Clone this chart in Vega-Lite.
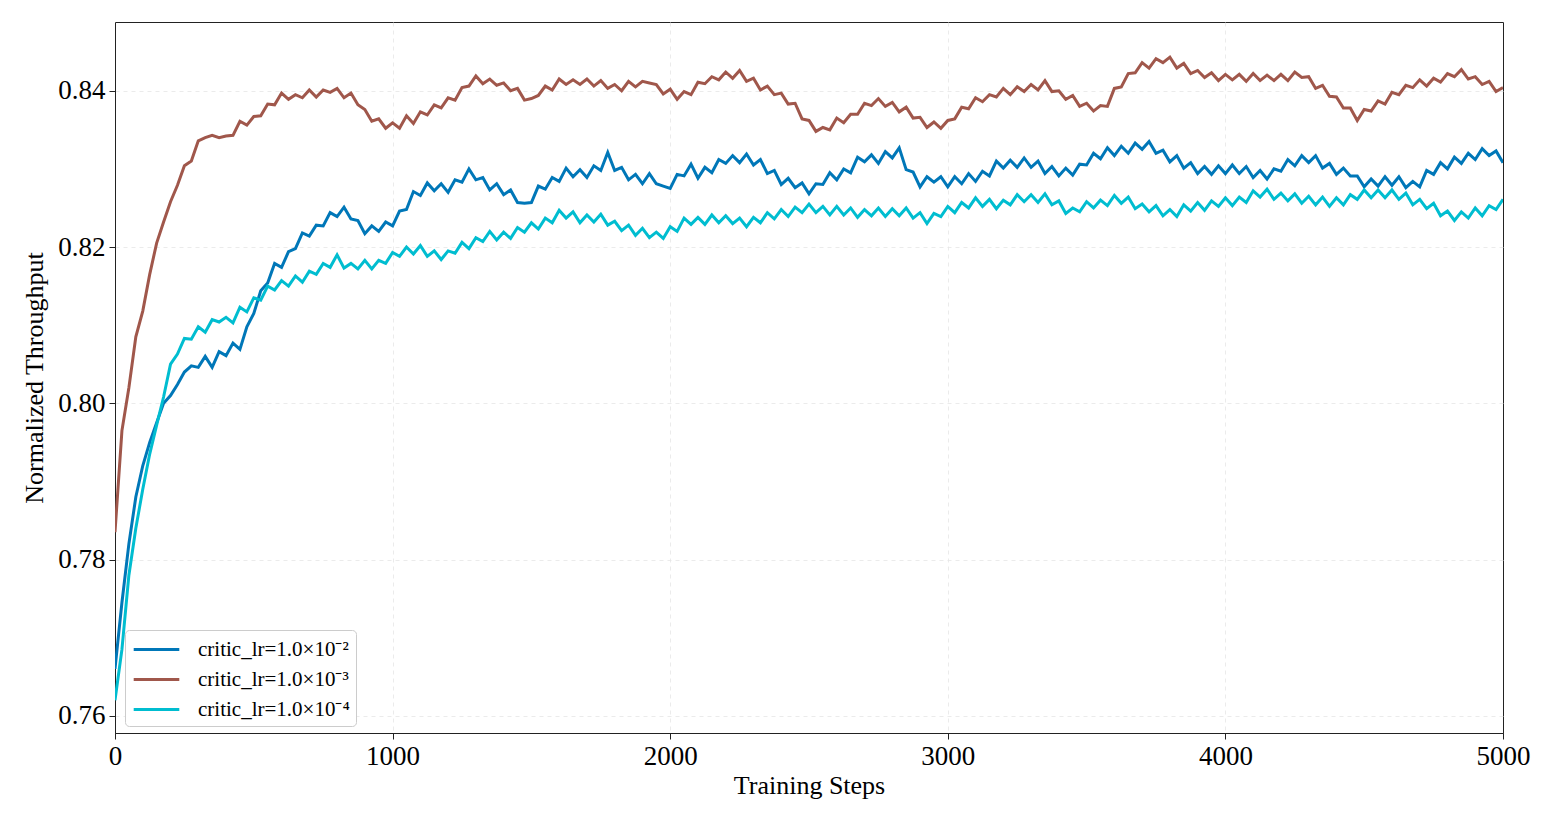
{
  "$schema": "https://vega.github.io/schema/vega-lite/v6.json",
  "width": 1388,
  "height": 711,
  "autosize": "none",
  "padding": {"left": 115, "top": 22, "right": 47, "bottom": 88},
  "background": "white",
  "data": {
    "values": [
      {"x": 0, "a": 0.7660, "b": 0.7835, "c": 0.7620},
      {"x": 25, "a": 0.7745, "b": 0.7965, "c": 0.7685},
      {"x": 50, "a": 0.7820, "b": 0.8020, "c": 0.7780},
      {"x": 75, "a": 0.7880, "b": 0.8085, "c": 0.7840},
      {"x": 100, "a": 0.7920, "b": 0.8118, "c": 0.7890},
      {"x": 125, "a": 0.7950, "b": 0.8165, "c": 0.7935},
      {"x": 150, "a": 0.7975, "b": 0.8205, "c": 0.7972},
      {"x": 175, "a": 0.8000, "b": 0.8232, "c": 0.8008},
      {"x": 200, "a": 0.8010, "b": 0.8258, "c": 0.8050},
      {"x": 225, "a": 0.8024, "b": 0.8279, "c": 0.8063},
      {"x": 250, "a": 0.8040, "b": 0.8304, "c": 0.8083},
      {"x": 275, "a": 0.8048, "b": 0.8310, "c": 0.8082},
      {"x": 300, "a": 0.8046, "b": 0.8336, "c": 0.8098},
      {"x": 325, "a": 0.8060, "b": 0.8340, "c": 0.8091},
      {"x": 350, "a": 0.8046, "b": 0.8343, "c": 0.8107},
      {"x": 375, "a": 0.8066, "b": 0.8340, "c": 0.8104},
      {"x": 400, "a": 0.8061, "b": 0.8342, "c": 0.8110},
      {"x": 425, "a": 0.8077, "b": 0.8343, "c": 0.8103},
      {"x": 450, "a": 0.8069, "b": 0.8361, "c": 0.8123},
      {"x": 475, "a": 0.8098, "b": 0.8356, "c": 0.8117},
      {"x": 500, "a": 0.8115, "b": 0.8367, "c": 0.8135},
      {"x": 525, "a": 0.8144, "b": 0.8368, "c": 0.8132},
      {"x": 550, "a": 0.8154, "b": 0.8383, "c": 0.8150},
      {"x": 575, "a": 0.8179, "b": 0.8382, "c": 0.8145},
      {"x": 600, "a": 0.8174, "b": 0.8397, "c": 0.8157},
      {"x": 625, "a": 0.8194, "b": 0.8389, "c": 0.8150},
      {"x": 650, "a": 0.8198, "b": 0.8395, "c": 0.8163},
      {"x": 675, "a": 0.8218, "b": 0.8391, "c": 0.8155},
      {"x": 700, "a": 0.8214, "b": 0.8401, "c": 0.8169},
      {"x": 725, "a": 0.8228, "b": 0.8392, "c": 0.8165},
      {"x": 750, "a": 0.8227, "b": 0.8401, "c": 0.8179},
      {"x": 775, "a": 0.8244, "b": 0.8398, "c": 0.8174},
      {"x": 800, "a": 0.8239, "b": 0.8403, "c": 0.8190},
      {"x": 825, "a": 0.8251, "b": 0.8391, "c": 0.8173},
      {"x": 850, "a": 0.8236, "b": 0.8397, "c": 0.8179},
      {"x": 875, "a": 0.8234, "b": 0.8382, "c": 0.8172},
      {"x": 900, "a": 0.8217, "b": 0.8376, "c": 0.8183},
      {"x": 925, "a": 0.8227, "b": 0.8361, "c": 0.8172},
      {"x": 950, "a": 0.8220, "b": 0.8364, "c": 0.8183},
      {"x": 975, "a": 0.8232, "b": 0.8352, "c": 0.8179},
      {"x": 1000, "a": 0.8227, "b": 0.8359, "c": 0.8193},
      {"x": 1025, "a": 0.8246, "b": 0.8352, "c": 0.8188},
      {"x": 1050, "a": 0.8248, "b": 0.8368, "c": 0.8200},
      {"x": 1075, "a": 0.8271, "b": 0.8358, "c": 0.8191},
      {"x": 1100, "a": 0.8266, "b": 0.8373, "c": 0.8202},
      {"x": 1125, "a": 0.8282, "b": 0.8369, "c": 0.8188},
      {"x": 1150, "a": 0.8272, "b": 0.8382, "c": 0.8195},
      {"x": 1175, "a": 0.8281, "b": 0.8378, "c": 0.8184},
      {"x": 1200, "a": 0.8270, "b": 0.8391, "c": 0.8195},
      {"x": 1225, "a": 0.8286, "b": 0.8388, "c": 0.8192},
      {"x": 1250, "a": 0.8283, "b": 0.8404, "c": 0.8206},
      {"x": 1275, "a": 0.8300, "b": 0.8406, "c": 0.8198},
      {"x": 1300, "a": 0.8286, "b": 0.8419, "c": 0.8212},
      {"x": 1325, "a": 0.8289, "b": 0.8409, "c": 0.8207},
      {"x": 1350, "a": 0.8273, "b": 0.8415, "c": 0.8220},
      {"x": 1375, "a": 0.8281, "b": 0.8407, "c": 0.8209},
      {"x": 1400, "a": 0.8267, "b": 0.8410, "c": 0.8219},
      {"x": 1425, "a": 0.8273, "b": 0.8400, "c": 0.8211},
      {"x": 1450, "a": 0.8257, "b": 0.8403, "c": 0.8225},
      {"x": 1475, "a": 0.8256, "b": 0.8388, "c": 0.8219},
      {"x": 1500, "a": 0.8257, "b": 0.8390, "c": 0.8231},
      {"x": 1525, "a": 0.8278, "b": 0.8394, "c": 0.8223},
      {"x": 1550, "a": 0.8274, "b": 0.8406, "c": 0.8237},
      {"x": 1575, "a": 0.8289, "b": 0.8401, "c": 0.8231},
      {"x": 1600, "a": 0.8284, "b": 0.8415, "c": 0.8247},
      {"x": 1625, "a": 0.8301, "b": 0.8408, "c": 0.8237},
      {"x": 1650, "a": 0.8290, "b": 0.8414, "c": 0.8245},
      {"x": 1675, "a": 0.8299, "b": 0.8408, "c": 0.8231},
      {"x": 1700, "a": 0.8289, "b": 0.8415, "c": 0.8241},
      {"x": 1725, "a": 0.8304, "b": 0.8406, "c": 0.8232},
      {"x": 1750, "a": 0.8298, "b": 0.8413, "c": 0.8242},
      {"x": 1775, "a": 0.8321, "b": 0.8403, "c": 0.8228},
      {"x": 1800, "a": 0.8298, "b": 0.8408, "c": 0.8233},
      {"x": 1825, "a": 0.8302, "b": 0.8400, "c": 0.8221},
      {"x": 1850, "a": 0.8286, "b": 0.8412, "c": 0.8228},
      {"x": 1875, "a": 0.8293, "b": 0.8405, "c": 0.8215},
      {"x": 1900, "a": 0.8281, "b": 0.8412, "c": 0.8224},
      {"x": 1925, "a": 0.8294, "b": 0.8410, "c": 0.8212},
      {"x": 1950, "a": 0.8281, "b": 0.8408, "c": 0.8219},
      {"x": 1975, "a": 0.8278, "b": 0.8396, "c": 0.8211},
      {"x": 2000, "a": 0.8275, "b": 0.8402, "c": 0.8226},
      {"x": 2025, "a": 0.8293, "b": 0.8389, "c": 0.8220},
      {"x": 2050, "a": 0.8291, "b": 0.8399, "c": 0.8237},
      {"x": 2075, "a": 0.8306, "b": 0.8395, "c": 0.8229},
      {"x": 2100, "a": 0.8288, "b": 0.8411, "c": 0.8238},
      {"x": 2125, "a": 0.8302, "b": 0.8409, "c": 0.8229},
      {"x": 2150, "a": 0.8295, "b": 0.8418, "c": 0.8241},
      {"x": 2175, "a": 0.8312, "b": 0.8414, "c": 0.8231},
      {"x": 2200, "a": 0.8307, "b": 0.8424, "c": 0.8240},
      {"x": 2225, "a": 0.8317, "b": 0.8416, "c": 0.8230},
      {"x": 2250, "a": 0.8308, "b": 0.8426, "c": 0.8237},
      {"x": 2275, "a": 0.8319, "b": 0.8412, "c": 0.8226},
      {"x": 2300, "a": 0.8305, "b": 0.8416, "c": 0.8238},
      {"x": 2325, "a": 0.8312, "b": 0.8401, "c": 0.8231},
      {"x": 2350, "a": 0.8294, "b": 0.8406, "c": 0.8244},
      {"x": 2375, "a": 0.8298, "b": 0.8395, "c": 0.8236},
      {"x": 2400, "a": 0.8280, "b": 0.8397, "c": 0.8248},
      {"x": 2425, "a": 0.8288, "b": 0.8383, "c": 0.8239},
      {"x": 2450, "a": 0.8276, "b": 0.8384, "c": 0.8251},
      {"x": 2475, "a": 0.8282, "b": 0.8364, "c": 0.8244},
      {"x": 2500, "a": 0.8268, "b": 0.8362, "c": 0.8255},
      {"x": 2525, "a": 0.8281, "b": 0.8348, "c": 0.8244},
      {"x": 2550, "a": 0.8280, "b": 0.8353, "c": 0.8252},
      {"x": 2575, "a": 0.8295, "b": 0.8350, "c": 0.8241},
      {"x": 2600, "a": 0.8286, "b": 0.8365, "c": 0.8252},
      {"x": 2625, "a": 0.8300, "b": 0.8359, "c": 0.8241},
      {"x": 2650, "a": 0.8295, "b": 0.8370, "c": 0.8250},
      {"x": 2675, "a": 0.8315, "b": 0.8370, "c": 0.8238},
      {"x": 2700, "a": 0.8309, "b": 0.8384, "c": 0.8248},
      {"x": 2725, "a": 0.8318, "b": 0.8381, "c": 0.8240},
      {"x": 2750, "a": 0.8307, "b": 0.8390, "c": 0.8250},
      {"x": 2775, "a": 0.8322, "b": 0.8380, "c": 0.8239},
      {"x": 2800, "a": 0.8314, "b": 0.8385, "c": 0.8249},
      {"x": 2825, "a": 0.8327, "b": 0.8373, "c": 0.8240},
      {"x": 2850, "a": 0.8299, "b": 0.8379, "c": 0.8250},
      {"x": 2875, "a": 0.8296, "b": 0.8365, "c": 0.8237},
      {"x": 2900, "a": 0.8277, "b": 0.8366, "c": 0.8244},
      {"x": 2925, "a": 0.8290, "b": 0.8353, "c": 0.8230},
      {"x": 2950, "a": 0.8283, "b": 0.8360, "c": 0.8243},
      {"x": 2975, "a": 0.8290, "b": 0.8352, "c": 0.8239},
      {"x": 3000, "a": 0.8277, "b": 0.8362, "c": 0.8252},
      {"x": 3025, "a": 0.8290, "b": 0.8364, "c": 0.8244},
      {"x": 3050, "a": 0.8281, "b": 0.8379, "c": 0.8257},
      {"x": 3075, "a": 0.8294, "b": 0.8377, "c": 0.8250},
      {"x": 3100, "a": 0.8284, "b": 0.8391, "c": 0.8263},
      {"x": 3125, "a": 0.8297, "b": 0.8386, "c": 0.8252},
      {"x": 3150, "a": 0.8291, "b": 0.8395, "c": 0.8261},
      {"x": 3175, "a": 0.8310, "b": 0.8392, "c": 0.8249},
      {"x": 3200, "a": 0.8301, "b": 0.8403, "c": 0.8260},
      {"x": 3225, "a": 0.8311, "b": 0.8395, "c": 0.8254},
      {"x": 3250, "a": 0.8302, "b": 0.8405, "c": 0.8267},
      {"x": 3275, "a": 0.8314, "b": 0.8399, "c": 0.8258},
      {"x": 3300, "a": 0.8302, "b": 0.8408, "c": 0.8267},
      {"x": 3325, "a": 0.8310, "b": 0.8401, "c": 0.8257},
      {"x": 3350, "a": 0.8294, "b": 0.8413, "c": 0.8268},
      {"x": 3375, "a": 0.8303, "b": 0.8399, "c": 0.8254},
      {"x": 3400, "a": 0.8291, "b": 0.8400, "c": 0.8259},
      {"x": 3425, "a": 0.8301, "b": 0.8389, "c": 0.8243},
      {"x": 3450, "a": 0.8292, "b": 0.8394, "c": 0.8250},
      {"x": 3475, "a": 0.8306, "b": 0.8380, "c": 0.8245},
      {"x": 3500, "a": 0.8305, "b": 0.8384, "c": 0.8258},
      {"x": 3525, "a": 0.8320, "b": 0.8374, "c": 0.8250},
      {"x": 3550, "a": 0.8313, "b": 0.8381, "c": 0.8260},
      {"x": 3575, "a": 0.8327, "b": 0.8380, "c": 0.8253},
      {"x": 3600, "a": 0.8317, "b": 0.8403, "c": 0.8266},
      {"x": 3625, "a": 0.8329, "b": 0.8405, "c": 0.8256},
      {"x": 3650, "a": 0.8320, "b": 0.8422, "c": 0.8264},
      {"x": 3675, "a": 0.8333, "b": 0.8423, "c": 0.8249},
      {"x": 3700, "a": 0.8325, "b": 0.8436, "c": 0.8255},
      {"x": 3725, "a": 0.8335, "b": 0.8429, "c": 0.8245},
      {"x": 3750, "a": 0.8320, "b": 0.8441, "c": 0.8253},
      {"x": 3775, "a": 0.8324, "b": 0.8436, "c": 0.8240},
      {"x": 3800, "a": 0.8309, "b": 0.8443, "c": 0.8248},
      {"x": 3825, "a": 0.8317, "b": 0.8429, "c": 0.8239},
      {"x": 3850, "a": 0.8301, "b": 0.8435, "c": 0.8254},
      {"x": 3875, "a": 0.8308, "b": 0.8422, "c": 0.8246},
      {"x": 3900, "a": 0.8294, "b": 0.8426, "c": 0.8257},
      {"x": 3925, "a": 0.8303, "b": 0.8417, "c": 0.8247},
      {"x": 3950, "a": 0.8293, "b": 0.8423, "c": 0.8259},
      {"x": 3975, "a": 0.8304, "b": 0.8413, "c": 0.8252},
      {"x": 4000, "a": 0.8294, "b": 0.8421, "c": 0.8263},
      {"x": 4025, "a": 0.8305, "b": 0.8414, "c": 0.8253},
      {"x": 4050, "a": 0.8294, "b": 0.8421, "c": 0.8264},
      {"x": 4075, "a": 0.8303, "b": 0.8412, "c": 0.8257},
      {"x": 4100, "a": 0.8289, "b": 0.8422, "c": 0.8272},
      {"x": 4125, "a": 0.8298, "b": 0.8413, "c": 0.8264},
      {"x": 4150, "a": 0.8287, "b": 0.8420, "c": 0.8274},
      {"x": 4175, "a": 0.8300, "b": 0.8413, "c": 0.8261},
      {"x": 4200, "a": 0.8297, "b": 0.8421, "c": 0.8269},
      {"x": 4225, "a": 0.8312, "b": 0.8413, "c": 0.8259},
      {"x": 4250, "a": 0.8304, "b": 0.8424, "c": 0.8268},
      {"x": 4275, "a": 0.8317, "b": 0.8417, "c": 0.8256},
      {"x": 4300, "a": 0.8308, "b": 0.8418, "c": 0.8265},
      {"x": 4325, "a": 0.8317, "b": 0.8403, "c": 0.8254},
      {"x": 4350, "a": 0.8301, "b": 0.8407, "c": 0.8264},
      {"x": 4375, "a": 0.8307, "b": 0.8393, "c": 0.8252},
      {"x": 4400, "a": 0.8293, "b": 0.8392, "c": 0.8263},
      {"x": 4425, "a": 0.8301, "b": 0.8378, "c": 0.8254},
      {"x": 4450, "a": 0.8291, "b": 0.8378, "c": 0.8267},
      {"x": 4475, "a": 0.8291, "b": 0.8362, "c": 0.8261},
      {"x": 4500, "a": 0.8277, "b": 0.8376, "c": 0.8273},
      {"x": 4525, "a": 0.8287, "b": 0.8374, "c": 0.8263},
      {"x": 4550, "a": 0.8278, "b": 0.8387, "c": 0.8273},
      {"x": 4575, "a": 0.8290, "b": 0.8383, "c": 0.8263},
      {"x": 4600, "a": 0.8279, "b": 0.8398, "c": 0.8273},
      {"x": 4625, "a": 0.8290, "b": 0.8395, "c": 0.8261},
      {"x": 4650, "a": 0.8276, "b": 0.8407, "c": 0.8269},
      {"x": 4675, "a": 0.8284, "b": 0.8404, "c": 0.8254},
      {"x": 4700, "a": 0.8277, "b": 0.8414, "c": 0.8261},
      {"x": 4725, "a": 0.8298, "b": 0.8406, "c": 0.8249},
      {"x": 4750, "a": 0.8293, "b": 0.8416, "c": 0.8256},
      {"x": 4775, "a": 0.8308, "b": 0.8411, "c": 0.8240},
      {"x": 4800, "a": 0.8300, "b": 0.8422, "c": 0.8246},
      {"x": 4825, "a": 0.8315, "b": 0.8418, "c": 0.8234},
      {"x": 4850, "a": 0.8307, "b": 0.8427, "c": 0.8245},
      {"x": 4875, "a": 0.8320, "b": 0.8415, "c": 0.8237},
      {"x": 4900, "a": 0.8312, "b": 0.8418, "c": 0.8250},
      {"x": 4925, "a": 0.8326, "b": 0.8408, "c": 0.8240},
      {"x": 4950, "a": 0.8317, "b": 0.8412, "c": 0.8253},
      {"x": 4975, "a": 0.8323, "b": 0.8399, "c": 0.8248},
      {"x": 5000, "a": 0.8308, "b": 0.8404, "c": 0.8261}
    ]
  },
  "transform": [
    {"fold": ["a", "b", "c"], "as": ["run", "y"]}
  ],
  "mark": {"type": "line", "strokeWidth": 3, "interpolate": "linear", "clip": true},
  "encoding": {
    "x": {
      "field": "x",
      "type": "quantitative",
      "title": "Training Steps",
      "scale": {"domain": [0, 5000], "nice": false, "zero": false},
      "axis": {
        "values": [0, 1000, 2000, 3000, 4000, 5000],
        "format": "d",
        "labelFlush": false,
        "titlePadding": 3,
        "gridOpacity": {"condition": {"test": "datum.value >= 5000", "value": 0}, "value": 1}
      }
    },
    "y": {
      "field": "y",
      "type": "quantitative",
      "title": "Normalized Throughput",
      "scale": {"domain": [0.7578, 0.8488], "nice": false, "zero": false},
      "axis": {"values": [0.76, 0.78, 0.80, 0.82, 0.84], "format": ".2f", "labelFlush": false, "titlePadding": 10}
    },
    "color": {
      "field": "run",
      "type": "nominal",
      "scale": {"domain": ["a", "b", "c"], "range": ["#0077b8", "#a0574b", "#00bdd0"]},
      "legend": {
        "title": null,
        "orient": "none",
        "legendX": 10,
        "legendY": 608,
        "labelExpr": "datum.label == 'a' ? 'critic_lr=1.0×10⁻²' : datum.label == 'b' ? 'critic_lr=1.0×10⁻³' : 'critic_lr=1.0×10⁻⁴'"
      }
    }
  },
  "config": {
    "font": "Liberation Serif",
    "view": {"stroke": "#222222", "strokeWidth": 1},
    "axis": {
      "labelFont": "Liberation Serif",
      "labelFontSize": 27,
      "labelColor": "#000000",
      "titleFont": "Liberation Serif",
      "titleFontSize": 26,
      "titleFontWeight": "normal",
      "titleColor": "#000000",
      "domainColor": "#222222",
      "tickColor": "#222222",
      "tickSize": 6,
      "labelPadding": 4,
      "grid": true,
      "gridColor": "#e6e6e6",
      "gridDash": [4, 4],
      "gridWidth": 0.8
    },
    "legend": {
      "symbolType": "M-0.9,0H2.9",
      "symbolSize": 576,
      "symbolStrokeWidth": 3,
      "labelFont": "Liberation Serif",
      "labelFontSize": 21,
      "labelColor": "#000000",
      "labelOffset": 40,
      "rowPadding": 6,
      "padding": 6,
      "fillColor": "#ffffff",
      "strokeColor": "#cccccc",
      "cornerRadius": 4
    }
  }
}
